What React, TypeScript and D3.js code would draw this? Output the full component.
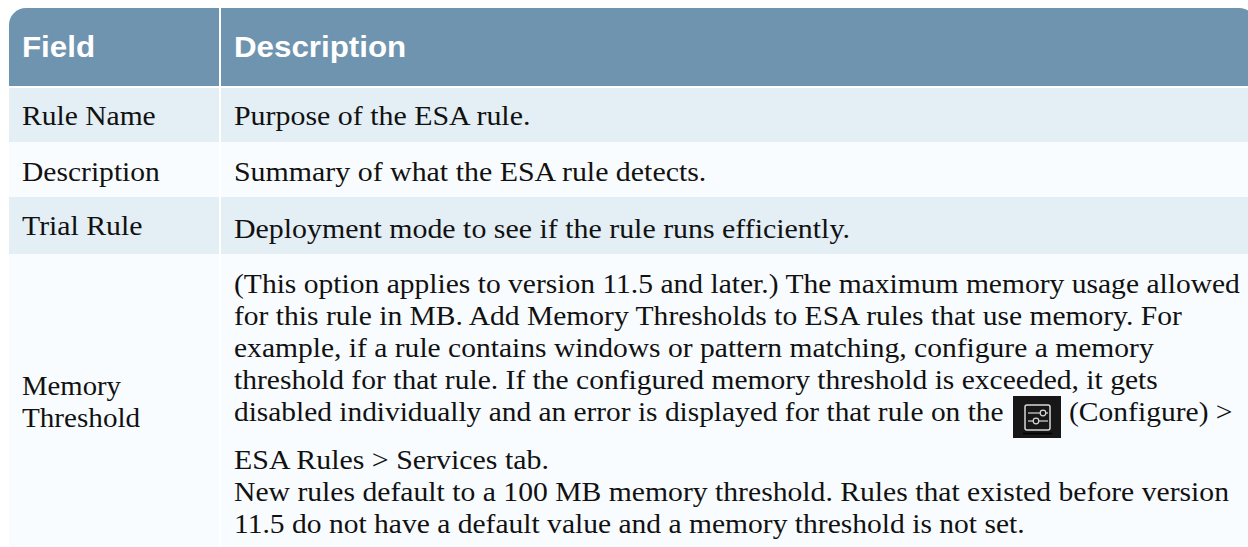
import React from "react";
import * as d3 from "d3";

const columns = ["Field", "Description"];
const fields = ["Rule Name", "Description", "Trial Rule", "Memory Threshold"];
const fieldLines = [["Rule Name"], ["Description"], ["Trial Rule"], ["Memory", "Threshold"]];
const shortDescriptions = [
  "Purpose of the ESA rule.",
  "Summary of what the ESA rule detects.",
  "Deployment mode to see if the rule runs efficiently.",
];
const memoryLines = [
  "(This option applies to version 11.5 and later.) The maximum memory usage allowed",
  "for this rule in MB. Add Memory Thresholds to ESA rules that use memory. For",
  "example, if a rule contains windows or pattern matching, configure a memory",
  "threshold for that rule. If the configured memory threshold is exceeded, it gets",
  "disabled individually and an error is displayed for that rule on the",
  "ESA Rules > Services tab.",
  "New rules default to a 100 MB memory threshold. Rules that existed before version",
  "11.5 do not have a default value and a memory threshold is not set.",
];

// layout
const memoryBaselines = [293, 325, 357, 389, 421, 469, 501, 533];
const memoryStretch = [1.075, 1.075, 1.075, 1.075, 1.069, 1.087, 1.079, 1.075];
const rowEdges = [88, 142, 197, 254, 547];
const fieldBaselines = [[125], [181], [235], [395, 427]];
const fieldStretch = [[1.075], [1.075], [1.083], [1.045, 1.06]];
const descBaselines = [125, 181, 238];

const serif = "'Liberation Serif', 'Times New Roman', serif";
const sans = "'Liberation Sans', Arial, sans-serif";
const bodyColor = "#111111";

// the source picture is slightly stretched sideways
const Label: React.FC<{ x: number; y: number; sx?: number; children: React.ReactNode }> = ({
  x,
  y,
  sx = 1.075,
  children,
}) => (
  <text
    transform={`translate(${x},${y}) scale(${sx},1)`}
    fontFamily={serif}
    fontSize={27.5}
    fill={bodyColor}
  >
    {children}
  </text>
);

// header shape with one rounded top corner
const headerPath = (x0: number, x1: number, y0: number, y1: number, r: number, left: boolean) => {
  const p = d3.path();
  if (left) {
    p.moveTo(x0, y1);
    p.lineTo(x0, y0 + r);
    p.arcTo(x0, y0, x0 + r, y0, r);
    p.lineTo(x1, y0);
    p.lineTo(x1, y1);
  } else {
    p.moveTo(x0, y1);
    p.lineTo(x0, y0);
    p.lineTo(x1 - r, y0);
    p.arcTo(x1, y0, x1, y0 + r, r);
    p.lineTo(x1, y1);
  }
  p.closePath();
  return p.toString();
};

const App: React.FC = () => {
  const x = d3.scaleOrdinal<number>().domain(columns).range([9, 221]);
  const xEnd = d3.scaleOrdinal<number>().domain(columns).range([219, 1256]);
  const text = x("Description") + 13;
  const iconX = 1013;
  return (
    <svg
      width={1248}
      height={547}
      style={{ position: "absolute", left: 0, top: 0, background: "#ffffff" }}
    >
      {columns.map((c, i) => (
        <g key={c}>
          <path d={headerPath(x(c), xEnd(c), 8, 86, 17, i === 0)} fill="#6f94b0" />
          <text
            transform={`translate(${x(c) + 13},57) scale(1.08,1)`}
            fontFamily={sans}
            fontWeight="bold"
            fontSize={29}
            fill="#ffffff"
          >
            {c}
          </text>
        </g>
      ))}
      {fields.map((f, i) => (
        <g key={f}>
          {columns.map((c) => (
            <rect
              key={c}
              x={x(c)}
              y={rowEdges[i]}
              width={xEnd(c) - x(c)}
              height={rowEdges[i + 1] - rowEdges[i]}
              fill={i % 2 === 0 ? "#e3eef5" : "#f9fcff"}
            />
          ))}
          {fieldLines[i].map((l, j) => (
            <Label key={l} x={22} y={fieldBaselines[i][j]} sx={fieldStretch[i][j]}>
              {l}
            </Label>
          ))}
        </g>
      ))}
      {shortDescriptions.map((d, i) => (
        <Label key={d} x={text} y={descBaselines[i]} sx={1.087}>
          {d}
        </Label>
      ))}
      {memoryLines.map((l, i) => (
        <Label key={l} x={text} y={memoryBaselines[i]} sx={memoryStretch[i]}>
          {l}
        </Label>
      ))}
      <Label x={1069} y={421}>
        (Configure) &gt;
      </Label>
      <g>
        <rect x={iconX} y={396} width={48} height={42} fill="#171717" />
        <rect x={iconX + 12} y={405} width={25} height={25} rx={2} fill="none" stroke="#d8d8d8" strokeWidth={1.5} />
        <line x1={iconX + 15} x2={iconX + 35} y1={413} y2={413} stroke="#d8d8d8" strokeWidth={1.2} />
        <line x1={iconX + 15} x2={iconX + 35} y1={421} y2={421} stroke="#d8d8d8" strokeWidth={1.2} />
        <circle cx={iconX + 30} cy={413} r={2.8} fill="#171717" stroke="#d8d8d8" strokeWidth={1.2} />
        <circle cx={iconX + 23} cy={421} r={2.8} fill="#171717" stroke="#d8d8d8" strokeWidth={1.2} />
        <line x1={iconX + 10} x2={iconX + 39} y1={433.5} y2={433.5} stroke="#000000" strokeWidth={1.5} />
      </g>
    </svg>
  );
};

export default App;
